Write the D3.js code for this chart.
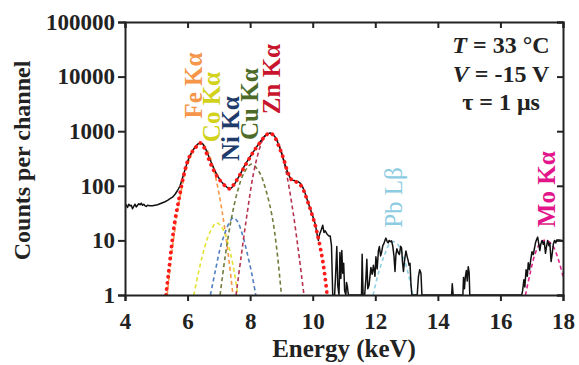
<!DOCTYPE html>
<html>
<head>
<meta charset="utf-8">
<script src="https://cdn.jsdelivr.net/npm/d3@7"></script>
<style>
  body { margin: 0; background: #fff; }
  text { font-family: "Liberation Serif", "Times New Roman", serif; font-weight: bold; }
</style>
</head>
<body>
<script>
// tick values
var xTicks = [4, 6, 8, 10, 12, 14, 16, 18];
var yTicks = [1, 10, 100, 1000, 10000, 100000];

// measured spectrum [energy keV, counts]
var spectrum = [
  [4.00,42],[4.04,45],[4.08,40],[4.12,46],[4.16,43],[4.20,44],[4.24,38],[4.28,42],[4.32,46],[4.36,41],
  [4.40,44],[4.44,47],[4.48,45],[4.52,48],[4.56,44],[4.60,46],[4.64,43],[4.68,42],[4.72,44],[4.80,43],
  [4.88,43],[4.96,44],[5.04,45],[5.12,47],[5.20,49],[5.28,51],[5.36,54],[5.44,58],[5.52,62],[5.60,70],
  [5.68,82],[5.76,100],[5.84,140],[5.92,200],[6.00,280],[6.08,360],[6.16,440],[6.24,510],[6.32,580],[6.40,610],
  [6.48,590],[6.56,500],[6.64,390],[6.72,300],[6.80,235],[6.88,185],[6.96,150],[7.04,128],[7.12,112],[7.20,100],
  [7.28,92],[7.36,88],[7.44,96],[7.52,112],[7.60,135],[7.68,160],[7.76,200],[7.84,245],[7.92,290],[8.00,340],
  [8.08,400],[8.16,470],[8.24,550],[8.32,640],[8.40,740],[8.48,830],[8.56,900],[8.64,930],[8.72,880],[8.80,780],
  [8.88,630],[8.96,470],[9.04,340],[9.12,240],[9.20,175],[9.28,140],[9.36,126],[9.44,124],[9.52,120],[9.60,112],
  [9.68,95],[9.76,72],[9.84,52],[9.92,38],[10.00,28],[10.08,20],[10.15,12],[10.18,10],[10.22,13],[10.28,16],
  [10.32,19],[10.36,14],[10.40,15],[10.46,13],[10.52,12],[10.56,12],[10.60,8],[10.64,1],[10.70,1],[10.74,3],
  [10.77,7.7],[10.80,1.5],[10.84,1],[10.87,6],[10.90,2],[10.93,6.5],[10.96,2.5],[10.99,3.8],[11.02,1.2],[11.06,1],
  [11.08,1.7],[11.11,1.4],[11.14,1],[11.56,1],[11.58,5.6],[11.61,1],[11.66,1],[11.70,2],[11.73,4.5],[11.76,1.3],
  [11.80,1.5],[11.86,3.2],[11.90,2.4],[11.94,3.5],[11.99,2.2],[12.02,5],[12.06,3],[12.10,6.5],[12.13,7.7],[12.17,5.2],
  [12.20,6],[12.24,8],[12.27,8.6],[12.31,10],[12.34,11],[12.38,9.5],[12.41,9],[12.44,10],[12.48,9.5],[12.52,9.8],
  [12.56,7.8],[12.60,5],[12.63,2.7],[12.66,5.5],[12.69,7],[12.73,6],[12.77,5.5],[12.81,7.8],[12.84,7.3],[12.87,4],
  [12.90,2.7],[12.94,4.5],[12.98,6.4],[13.02,5],[13.05,4.3],[13.08,3.5],[13.11,3.8],[13.14,1.6],[13.17,1],[13.34,1],
  [13.38,2.2],[13.42,2.9],[13.46,2.5],[13.49,1],[14.44,1],[14.46,1.6],[14.49,1],[14.80,1],[14.82,2.1],[14.85,1.3],
  [14.88,2.2],[14.91,2.8],[14.94,1.8],[14.97,3.3],[15.00,2.6],[15.02,1],[16.68,1],[16.71,1.2],[16.75,1.9],[16.78,1.4],
  [16.82,2.9],[16.86,2.2],[16.89,3.9],[16.93,2.9],[16.97,4.5],[17.01,6.2],[17.05,5.5],[17.08,6.8],[17.12,9],[17.15,10.2],
  [17.19,11.5],[17.22,9],[17.26,6.5],[17.29,8.5],[17.33,10],[17.37,8.5],[17.40,9.5],[17.44,5.8],[17.47,7.5],[17.51,10],
  [17.55,8],[17.58,9],[17.62,4.1],[17.66,6],[17.69,8.5],[17.73,10],[17.77,9],[17.80,10.2],[17.88,10.2],[17.96,10],[18.00,9.5]
];

// total fit (red dots)
var totalFit = [
  [5.31,1],[5.38,2.2],[5.45,5],[5.52,11],[5.6,24],[5.68,42],[5.76,73],[5.87,150],[5.98,260],[6.1,380],[6.24,490],
  [6.4,610],[6.53,500],[6.66,324],[6.82,200],[6.98,139],[7.2,100],[7.36,88],[7.5,110],[7.67,158],[7.85,240],[8.0,335],
  [8.15,460],[8.31,610],[8.47,800],[8.63,930],[8.76,820],[8.9,560],[9.05,335],[9.18,194],[9.28,140],[9.37,122],
  [9.5,116],[9.6,105],[9.72,80],[9.82,55],[9.92,38],[10.0,27],[10.07,20],[10.15,13],[10.25,7],[10.33,3.9],[10.4,2],[10.46,1]
];

// fitted component peaks
var feKa = [[5.35,1],[5.5,6],[5.7,40],[5.9,150],[6.1,350],[6.25,520],[6.4,600],[6.55,530],[6.7,360],[6.9,140],[7.1,35],[7.3,5.5],[7.45,1]];
var coKa = [[6.2,1],[6.35,2.6],[6.5,6],[6.65,11.5],[6.8,17.5],[6.92,21],[7.05,19],[7.2,13],[7.35,6.5],[7.5,2.5],[7.6,1]];
var niKa = [[6.73,1],[6.9,3],[7.05,7.5],[7.2,14],[7.35,22],[7.47,26],[7.6,22],[7.75,13],[7.9,6],[8.05,2.5],[8.18,1]];
var cuKa = [[7.04,1],[7.2,5],[7.4,25],[7.6,80],[7.8,170],[8.05,250],[8.3,175],[8.5,85],[8.7,28],[8.85,7],[9.0,1]];
var znKa = [[7.55,1],[7.7,4.5],[7.9,30],[8.1,160],[8.3,480],[8.45,780],[8.63,900],[8.8,790],[8.95,520],[9.15,180],[9.35,40],[9.55,6],[9.72,1]];
var pbLb = [[11.93,1],[12.1,2.5],[12.3,5.5],[12.45,8.5],[12.58,9.5],[12.75,8],[12.9,5],[13.05,2.5],[13.2,1]];
var moKa = [[16.8,1],[16.95,2.5],[17.1,5.5],[17.25,8.5],[17.4,10],[17.55,9.5],[17.7,7.5],[17.85,4.5],[18.0,2.2]];

var peakNames = ["Fe K\u03b1", "Co K\u03b1", "Ni K\u03b1", "Cu K\u03b1", "Zn K\u03b1", "Pb L\u03b2", "Mo K\u03b1"];

var width = 579, height = 365,
    margin = {top: 22, right: 16, bottom: 70, left: 125},
    w = width - margin.left - margin.right,
    h = height - margin.top - margin.bottom;

var svg = d3.select("body").append("svg")
    .attr("width", width)
    .attr("height", height);

var g = svg.append("g")
    .attr("transform", "translate(" + margin.left + "," + margin.top + ")");

var x = d3.scaleLinear().domain([4, 18]).range([0, w]),
    y = d3.scaleLog().domain([1, 100000]).range([h, 0]);

g.append("clipPath").attr("id", "clip")
  .append("rect").attr("width", w).attr("height", h);

var line = d3.line()
    .x(function(d) { return x(d[0]); })
    .y(function(d) { return y(Math.max(1, d[1])); });

var smooth = d3.line()
    .curve(d3.curveCatmullRom)
    .x(function(d) { return x(d[0]); })
    .y(function(d) { return y(d[1]); });

var plot = g.append("g").attr("clip-path", "url(#clip)");

// dashed component curves
var comps = [
  {d: feKa, c: "#f79646"},
  {d: coKa, c: "#e3e334"},
  {d: niKa, c: "#4f7fc0"},
  {d: cuKa, c: "#6f7d3c"},
  {d: znKa, c: "#b8334d"},
  {d: pbLb, c: "#8fd0e3"},
  {d: moKa, c: "#e0258c"}
];
comps.forEach(function(p) {
  plot.append("path")
    .attr("d", smooth(p.d))
    .attr("fill", "none")
    .attr("stroke", p.c)
    .attr("stroke-width", 1.6)
    .attr("stroke-dasharray", "4,3");
});

// measured spectrum
plot.append("path")
  .attr("d", line(spectrum))
  .attr("fill", "none")
  .attr("stroke", "#111")
  .attr("stroke-width", 1.5)
  .attr("stroke-linejoin", "round");

// total fit
plot.append("path")
  .attr("d", smooth(totalFit))
  .attr("fill", "none")
  .attr("stroke", "#ff1a1a")
  .attr("stroke-width", 3.8)
  .attr("stroke-linecap", "round")
  .attr("stroke-dasharray", "0.1,6");

// axes
g.append("g")
  .attr("transform", "translate(0," + h + ")")
  .call(d3.axisBottom(x).tickValues(xTicks).tickSize(6).tickPadding(12).tickFormat(d3.format("d")));
g.append("g")
  .call(d3.axisTop(x).tickValues(xTicks).tickSize(-6).tickFormat(""));
g.append("g")
  .call(d3.axisLeft(y).tickValues(yTicks).tickSize(7).tickPadding(3).tickFormat(d3.format("d")));
g.append("g")
  .attr("transform", "translate(" + w + ",0)")
  .call(d3.axisRight(y).tickValues(yTicks).tickSize(-6).tickFormat(""));

g.selectAll(".domain").attr("stroke", "#222").attr("stroke-width", 2);
g.selectAll(".tick line").attr("stroke", "#222").attr("stroke-width", 2);
g.selectAll(".tick text")
  .attr("fill", "#222")
  .style("font-size", "23px")
  .style("font-family", "'Liberation Serif', serif")
  .style("font-weight", "bold");

// axis titles
svg.append("text")
  .attr("x", margin.left + x(11))
  .attr("y", 357)
  .attr("text-anchor", "middle")
  .style("font-size", "25px")
  .attr("fill", "#222")
  .text("Energy (keV)");

svg.append("text")
  .attr("transform", "translate(30," + (margin.top + h / 2 + 2) + ") rotate(-90)")
  .attr("text-anchor", "middle")
  .style("font-size", "24px")
  .attr("fill", "#222")
  .text("Counts per channel");

// peak labels (energy of baseline, counts where text starts)
var labelPos = [
  {e: 6.46, c: 1700, col: "#f5964a", wt: "bold"},
  {e: 7.04, c: 630, col: "#d2d21c", wt: "bold"},
  {e: 7.64, c: 285, col: "#203a6a", wt: "bold"},
  {e: 8.25, c: 690, col: "#4c6a28", wt: "bold"},
  {e: 8.95, c: 2050, col: "#c8152d", wt: "bold"},
  {e: 12.85, c: 17, col: "#8ccce2", wt: "normal"},
  {e: 17.74, c: 17.5, col: "#e2158a", wt: "bold"}
];
peakNames.forEach(function(name, i) {
  var p = labelPos[i];
  g.append("text")
    .attr("transform", "translate(" + x(p.e) + "," + y(p.c) + ") rotate(-90)")
    .attr("fill", p.col)
    .style("font-size", "25px")
    .style("font-weight", p.wt)
    .text(name);
});

// conditions
var cond = g.append("text")
  .attr("text-anchor", "middle")
  .attr("fill", "#222")
  .style("font-size", "24px");
var l1 = cond.append("tspan").attr("x", 501 - margin.left).attr("y", 53 - margin.top);
l1.append("tspan").style("font-style", "italic").text("T");
l1.append("tspan").text(" = 33 \u00b0C");
var l2 = cond.append("tspan").attr("x", 501 - margin.left).attr("y", 82 - margin.top);
l2.append("tspan").style("font-style", "italic").text("V");
l2.append("tspan").text(" = -15 V");
cond.append("tspan").attr("x", 501 - margin.left).attr("y", 110 - margin.top).text("\u03c4 = 1 \u03bcs");
</script>
</body>
</html>
